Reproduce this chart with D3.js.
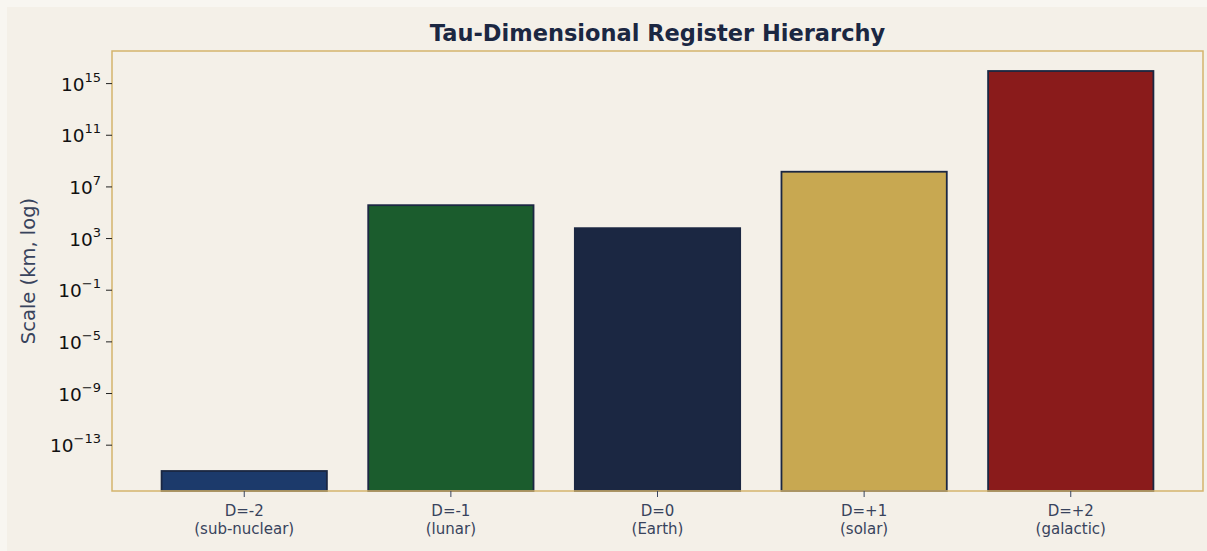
<!DOCTYPE html>
<html>
<head>
<meta charset="utf-8">
<script src="https://cdn.jsdelivr.net/npm/d3@7"></script>
<style>
  body { margin: 0; background: #f8f6f1; }
  svg { display: block; font-family: "DejaVu Sans", sans-serif; }
</style>
</head>
<body>
<div id="chart"></div>
<script>
// data
var dims = ["D=-2", "D=-1", "D=0", "D=+1", "D=+2"];
var regs = ["(sub-nuclear)", "(lunar)", "(Earth)", "(solar)", "(galactic)"];
var scales = [1e-15, 384400, 6371, 1.496e8, 9.46e15];
var colors = ["#1c3a6b", "#1b5c2d", "#1b2742", "#c8a851", "#8a1b1b"];
var yTicks = [1e-13, 1e-9, 1e-5, 1e-1, 1e3, 1e7, 1e11, 1e15];

var W = 1207, H = 551;
var m = { left: 112, right: 1203, top: 51, bottom: 491 };

var svg = d3.select("#chart").append("svg")
    .attr("width", W)
    .attr("height", H);

svg.append("rect")
    .attr("x", 7).attr("y", 7)
    .attr("width", W - 7).attr("height", H - 7)
    .attr("fill", "#f4f0e8");

// log limits with 5% margin like matplotlib
var lo = Math.log10(d3.min(scales)), hi = Math.log10(d3.max(scales));
var pad = (hi - lo) * 0.05;
var y = d3.scaleLog()
    .domain([Math.pow(10, lo - pad), Math.pow(10, hi + pad)])
    .range([m.bottom, m.top]);

var x = d3.scaleLinear()
    .domain([-0.64, dims.length - 1 + 0.64])
    .range([m.left, m.right]);
var bw = x(0.8) - x(0);

svg.selectAll(".bar")
    .data(scales)
    .enter().append("rect")
    .attr("class", "bar")
    .attr("x", function (d, i) { return x(i) - bw / 2; })
    .attr("y", function (d) { return y(d); })
    .attr("width", bw)
    .attr("height", function (d) { return m.bottom - y(d); })
    .attr("fill", function (d, i) { return colors[i]; })
    .attr("stroke", "#1b2742")
    .attr("stroke-width", 1.8);

// frame
svg.append("rect")
    .attr("x", m.left).attr("y", m.top)
    .attr("width", m.right - m.left).attr("height", m.bottom - m.top)
    .attr("fill", "none")
    .attr("stroke", "#d4b46c")
    .attr("stroke-width", 1.5);

// y axis
var yg = svg.append("g");
yTicks.forEach(function (t) {
    var yy = y(t);
    yg.append("line")
        .attr("x1", m.left - 6).attr("x2", m.left)
        .attr("y1", yy).attr("y2", yy)
        .attr("stroke", "#222").attr("stroke-width", 1);
    var e = Math.round(Math.log10(t));
    var txt = yg.append("text")
        .attr("x", m.left - 11)
        .attr("y", yy + 7)
        .attr("text-anchor", "end")
        .attr("font-size", 18.5)
        .attr("fill", "#111");
    txt.append("tspan").text("10");
    txt.append("tspan")
        .attr("font-size", 13)
        .attr("dy", -9)
        .text(e < 0 ? "\u2212" + Math.abs(e) : String(e));
});

// x axis
var xg = svg.append("g");
dims.forEach(function (d, i) {
    var xx = x(i);
    xg.append("line")
        .attr("x1", xx).attr("x2", xx)
        .attr("y1", m.bottom).attr("y2", m.bottom + 6)
        .attr("stroke", "#3a4660");
    xg.append("text")
        .attr("x", xx).attr("y", m.bottom + 25)
        .attr("text-anchor", "middle")
        .attr("font-size", 15)
        .attr("fill", "#38435c")
        .text(d);
    xg.append("text")
        .attr("x", xx).attr("y", m.bottom + 43)
        .attr("text-anchor", "middle")
        .attr("font-size", 15)
        .attr("fill", "#38435c")
        .text(regs[i]);
});

// labels
svg.append("text")
    .attr("transform", "translate(35," + ((m.top + m.bottom) / 2) + ") rotate(-90)")
    .attr("text-anchor", "middle")
    .attr("font-size", 19.5)
    .attr("fill", "#38435c")
    .text("Scale (km, log)");

svg.append("text")
    .attr("x", (m.left + m.right) / 2)
    .attr("y", 41)
    .attr("text-anchor", "middle")
    .attr("font-size", 22.5)
    .attr("font-weight", "bold")
    .attr("fill", "#1b2742")
    .text("Tau-Dimensional Register Hierarchy");
</script>
</body>
</html>
